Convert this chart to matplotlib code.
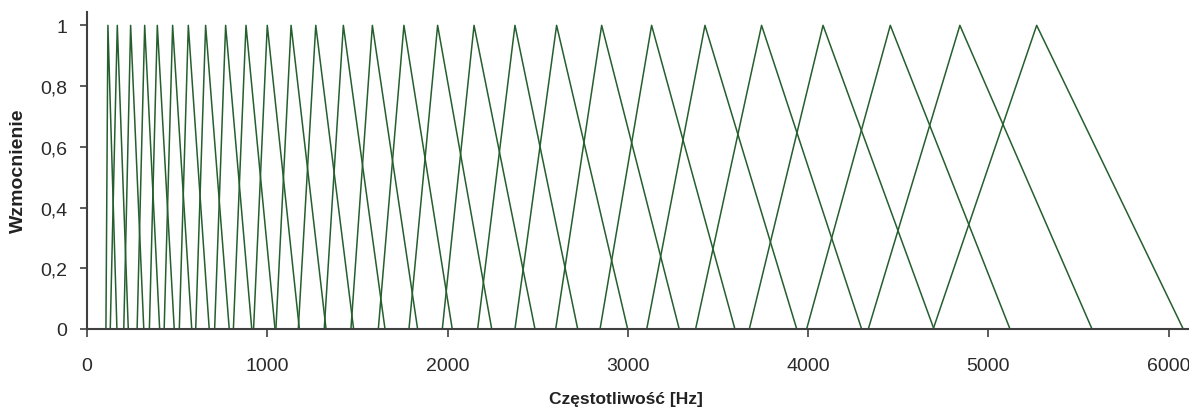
import matplotlib
matplotlib.use("Agg")
import matplotlib.pyplot as plt

plt.rcParams['font.family'] = ['Liberation Sans', 'DejaVu Sans']

# filtry trojkatne: poczatek, szczyt, koniec [Hz]
lewy = [105, 129, 204, 278, 346, 428, 512, 603, 708, 812, 924, 1048, 1172, 1316,
        1464, 1616, 1786, 1971, 2167, 2374, 2600, 2846, 3105, 3376, 3674, 3992,
        4334, 4694]
szczyt = [116, 168, 242, 320, 390, 475, 562, 658, 769, 882, 1000, 1132, 1269, 1422,
          1583, 1758, 1945, 2147, 2374, 2605, 2855, 3132, 3428, 3742, 4083, 4456,
          4842, 5268]
prawy = [166, 229, 315, 403, 484, 581, 678, 789, 914, 1043, 1178, 1326, 1479, 1653,
         1834, 2026, 2245, 2485, 2722, 2999, 3285, 3594, 3937, 4297, 4698, 5120,
         5575, 6081]

yticks = [0, 0.2, 0.4, 0.6, 0.8, 1]
yticklabels = ['0', '0,2', '0,4', '0,6', '0,8', '1']
xticks = [0, 1000, 2000, 3000, 4000, 5000, 6000]

fig = plt.figure(figsize=(11.89, 4.10), dpi=100)
ax = fig.add_axes([87/1189, 80/410, 1 - 87/1189, 317/410])

for a, b, c in zip(lewy, szczyt, prawy):
    ax.plot([a, b, c], [0, 1, 0], color='#255f2e', lw=1.1)

ax.set_xlim(0, 6113)
ax.set_ylim(0, 1.044)
ax.set_yticks(yticks)
ax.set_yticklabels(yticklabels)
ax.set_xticks(xticks)

for s in ['top', 'right']:
    ax.spines[s].set_visible(False)
for s in ['left', 'bottom']:
    ax.spines[s].set_color('#404040')
    ax.spines[s].set_linewidth(1.5)

ax.tick_params(axis='y', length=5, width=1.2, color='#404040', pad=9,
               labelsize=14, labelcolor='#2a2a2a')
ax.tick_params(axis='x', length=6, width=1.2, color='#404040', pad=14,
               labelsize=14, labelcolor='#2a2a2a')

fig.text(18/1189, 1 - 171/410, 'Wzmocnienie', rotation=90, ha='center', va='center',
         fontsize=14, fontweight='bold', color='#222222')
fig.text(626/1189, 1 - 400/410, 'Częstotliwość [Hz]', ha='center', va='center',
         fontsize=12.5, fontweight='bold', color='#222222')

fig.savefig('out.png', dpi=100, facecolor='white')
